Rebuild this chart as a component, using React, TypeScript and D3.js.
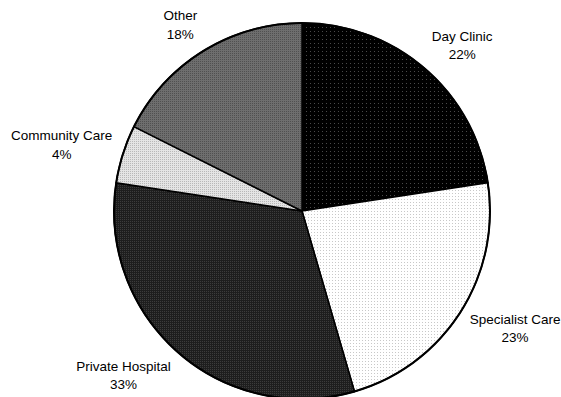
import { useEffect, useRef } from "react";
import * as d3 from "d3";

const CATEGORIES = ["Day Clinic", "Specialist Care", "Private Hospital", "Community Care", "Other"];
// slice sizes as drawn in the picture (the printed labels are rounded)
const VALUES = [22.6, 22.9, 31.9, 5.0, 17.6];
const PERCENT_LABELS = ["22%", "23%", "33%", "4%", "18%"];

// pattern tiles: base colour + dot colour + tile size
const PATTERNS = [
  { id: "p-day", base: "#000000", dot: "#4a4a4a", size: 4 },
  { id: "p-spec", base: "#ffffff", dot: "#c8c8c8", size: 3 },
  { id: "p-priv", base: "#1e1e1e", dot: "#3c3c3c", size: 2 },
  { id: "p-comm", base: "#e4e4e4", dot: "#b8b8b8", size: 2 },
  { id: "p-other", base: "#6e6e6e", dot: "#505050", size: 2 },
];

const W = 561;
const H = 397;

export default function App() {
  const svgRef = useRef<SVGSVGElement | null>(null);

  useEffect(() => {
    document.body.style.margin = "0";
    const svg = d3.select(svgRef.current);
    svg.selectAll("*").remove();

    const cx = 302;
    const cy = 211;
    const r = 188;
    const labelR = 199;

    const defs = svg.append("defs");
    PATTERNS.forEach((p) => {
      const pat = defs
        .append("pattern")
        .attr("id", p.id)
        .attr("patternUnits", "userSpaceOnUse")
        .attr("width", p.size)
        .attr("height", p.size);
      pat.append("rect").attr("width", p.size).attr("height", p.size).attr("fill", p.base);
      pat.append("rect").attr("width", 1).attr("height", 1).attr("fill", p.dot);
    });

    const pie = d3
      .pie<number>()
      .sort(null)
      .value((d) => d);
    const arcs = pie(VALUES);
    const arc = d3.arc<d3.PieArcDatum<number>>().innerRadius(0).outerRadius(r);

    const g = svg.append("g").attr("transform", `translate(${cx},${cy})`);

    g.selectAll("path.slice")
      .data(arcs)
      .join("path")
      .attr("class", "slice")
      .attr("d", arc)
      .attr("fill", (_, i) => `url(#${PATTERNS[i].id})`)
      .attr("stroke", "#000")
      .attr("stroke-width", 1.5)
      .attr("stroke-linejoin", "round");

    // outer rim slightly heavier
    g.append("circle")
      .attr("r", r)
      .attr("fill", "none")
      .attr("stroke", "#000")
      .attr("stroke-width", 2);

    const fontSize = 13.5;
    const lineH = 18.5;

    // label box sits beside the anchor point: left/right by side, vertically by angle
    arcs.forEach((a, i) => {
      const mid = (a.startAngle + a.endAngle) / 2;
      const dx = Math.sin(mid);
      const dy = -Math.cos(mid);
      const text = g
        .append("text")
        .attr("font-family", "Liberation Sans, Arial, sans-serif")
        .attr("font-size", fontSize)
        .attr("fill", "#000")
        .attr("text-anchor", "middle");
      text.append("tspan").attr("x", 0).attr("dy", 0).text(CATEGORIES[i]);
      text.append("tspan").attr("x", 0).attr("dy", lineH).text(PERCENT_LABELS[i]);

      const node = text.node() as SVGTextElement;
      const bb = node.getBBox();
      const px = dx * labelR;
      const py = dy * labelR;
      const bcx = px + (Math.sign(dx) * bb.width) / 2;
      const bcy = py + dy * bb.height * 0.58;
      const ty = bcy - (bb.y + bb.height / 2);
      text.attr("transform", `translate(${bcx},${ty})`);
    });
  }, []);

  return <svg ref={svgRef} width={W} height={H} style={{ display: "block", background: "#fff" }} />;
}
